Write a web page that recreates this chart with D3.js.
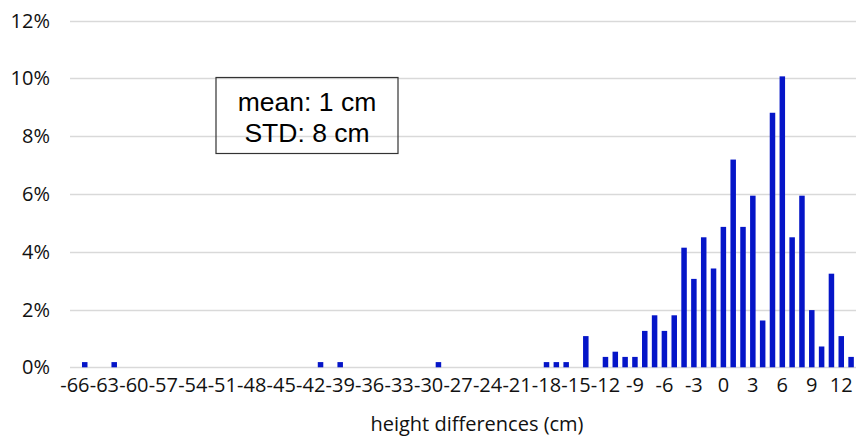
<!DOCTYPE html>
<html>
<head>
<meta charset="utf-8">
<script src="https://cdn.jsdelivr.net/npm/d3@7"></script>
<style>
	body { margin: 0; background: #fff; }
	.tick-label { font-family: "Open Sans", sans-serif; font-size: 20px; fill: #111; }
	.axisTitle { font-family: "Open Sans", sans-serif; font-size: 20px; fill: #111; }
	.note { font-family: "Liberation Sans", Arial, sans-serif; font-size: 26.5px; fill: #000; }
</style>
</head>
<body>
<div id="graph"></div>
<script>
// every bin on the x axis (cm)
const categories = [-66, -65, -64, -63, -62, -61, -60, -59, -58, -57, -56, -55, -54, -53, -52, -51,
	-50, -49, -48, -47, -46, -45, -44, -43, -42, -41, -40, -39, -38, -37, -36, -35, -34, -33, -32, -31,
	-30, -29, -28, -27, -26, -25, -24, -23, -22, -21, -20, -19, -18, -17, -16, -15, -14, -13, -12, -11,
	-10, -9, -8, -7, -6, -5, -4, -3, -2, -1, 0, 1, 2, 3, 4, 5, 6, 7, 8, 9, 10, 11, 12, 13];

// bins that have a bar, and their share in percent
const bins = [-65, -62, -41, -39, -29, -18, -17, -16, -14, -12, -11, -10, -9, -8, -7, -6, -5,
	-4, -3, -2, -1, 0, 1, 2, 3, 4, 5, 6, 7, 8, 9, 10, 11, 12, 13];
const percents = [0.18, 0.18, 0.18, 0.18, 0.18, 0.18, 0.18, 0.18, 1.08, 0.36, 0.54, 0.36, 0.36, 1.26, 1.80, 1.26, 1.80,
	4.14, 3.06, 4.50, 3.42, 4.86, 7.19, 4.86, 5.94, 1.62, 8.81, 10.07, 4.50, 5.94, 1.98, 0.72, 3.24, 1.08, 0.36];

const xTickLabels = [-66, -63, -60, -57, -54, -51, -48, -45, -42, -39, -36, -33, -30, -27, -24, -21, -18, -15, -12, -9, -6, -3, 0, 3, 6, 9, 12];
const yTicks = [0, 2, 4, 6, 8, 10, 12];

const noteLines = ["mean: 1 cm", "STD: 8 cm"];

const width = 856, height = 437;
const plot = {left: 70, right: 856, top: 20.6, bottom: 367.3};

const data = bins.map((b, i) => ({bin: b, value: percents[i]}));

const svg = d3.select("#graph")
	.append("svg")
	.attr("width", width)
	.attr("height", height);

const xScale = d3.scaleBand()
	.domain(categories)
	.range([plot.left, plot.right])
	.padding(0);

const yScale = d3.scaleLinear()
	.domain([0, 12])
	.range([plot.bottom, plot.top]);

// gridlines
svg.append("g")
	.selectAll("line")
	.data(yTicks)
	.enter().append("line")
	.attr("x1", plot.left)
	.attr("x2", plot.right)
	.attr("y1", (d) => Math.round(yScale(d)) + 0.5)
	.attr("y2", (d) => Math.round(yScale(d)) + 0.5)
	.style("stroke", "#d9d9d9")
	.style("stroke-width", 1.3);

// y labels
svg.append("g")
	.selectAll("text")
	.data(yTicks)
	.enter().append("text")
	.attr("class", "tick-label")
	.attr("x", 50)
	.attr("y", (d) => yScale(d))
	.attr("dy", "0.35em")
	.attr("text-anchor", "end")
	.text((d) => d + "%");

// x labels
svg.append("g")
	.selectAll("text")
	.data(xTickLabels)
	.enter().append("text")
	.attr("class", "tick-label")
	.attr("x", (d) => xScale(d) + xScale.bandwidth() / 2)
	.attr("y", 385)
	.attr("dy", "0.35em")
	.attr("text-anchor", "middle")
	.text((d) => d);

svg.append("text")
	.attr("class", "axisTitle")
	.attr("x", 477)
	.attr("y", 424)
	.attr("dy", "0.35em")
	.attr("text-anchor", "middle")
	.text("height differences (cm)");

// bars
const barW = xScale.bandwidth() * 0.56;
svg.append("g")
	.selectAll("rect")
	.data(data)
	.enter().append("rect")
	.attr("x", (d) => xScale(d.bin) + (xScale.bandwidth() - barW) / 2)
	.attr("y", (d) => yScale(d.value))
	.attr("width", barW)
	.attr("height", (d) => yScale(0) - yScale(d.value))
	.style("fill", "#0515c8");

// stats box
svg.append("rect")
	.attr("x", 216)
	.attr("y", 77.5)
	.attr("width", 182)
	.attr("height", 76)
	.style("fill", "none")
	.style("stroke", "#333")
	.style("stroke-width", 1.2);

svg.selectAll(".note")
	.data(noteLines)
	.enter().append("text")
	.attr("class", "note")
	.attr("x", 307)
	.attr("y", (d, i) => 102 + i * 31)
	.attr("dy", "0.35em")
	.attr("text-anchor", "middle")
	.text((d) => d);
</script>
</body>
</html>
